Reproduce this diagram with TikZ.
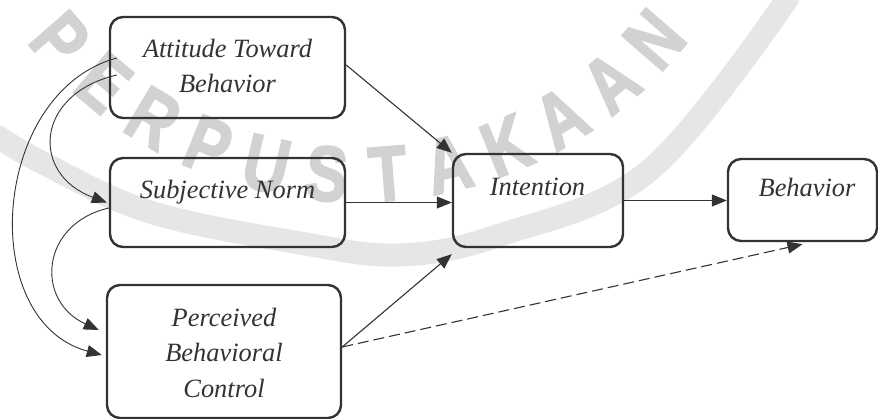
\documentclass[tikz,border=0pt]{standalone}
\usepackage{fontspec}
\setmainfont{Liberation Serif}
\newfontfamily\wmfont{Liberation Sans}[BoldFeatures={FakeBold=2.5}]
\usetikzlibrary{arrows.meta}
\definecolor{ink}{HTML}{333333}
\definecolor{wmgray}{HTML}{D2D2D2}
\definecolor{bandgray}{HTML}{E6E6E6}
\begin{document}
\begin{tikzpicture}[x=1pt,y=-1pt,
  box/.style={draw=ink, line width=2.4pt, rounded corners=13pt, inner sep=0pt},
  lbl/.style={font=\fontsize{26.4}{35}\selectfont\itshape, text=ink, anchor=base, inner sep=0pt},
  conn/.style={draw=ink, line width=1.1pt, -{Triangle[length=15pt,width=12pt]}},
  curv/.style={conn, line width=0.9pt},
  wm/.style={text=wmgray, inner sep=0pt, font=\wmfont\bfseries\fontsize{78}{78}\selectfont}]
\useasboundingbox (0,0) rectangle (878,419);
\fill[white] (0,0) rectangle (878,419);
% watermark
\draw[bandgray, line width=23pt] plot[smooth, tension=0.6] coordinates {(-5,135) (43,163) (150,212) (300,243) (400,255) (500,235) (650,170) (790,-5)};
\foreach \l [count=\i] in {P,E,R,P,U,S,T,A,K,A,A,N}{
  \pgfmathsetmacro\ang{138.9-8.9*(\i-1)}
  \node[wm, rotate={90-\ang}, xscale=0.8] (wm\i) at ([shift={(\ang:394)}]357,-219) {\l};
}
% boxes
\node[box, minimum width=235pt, minimum height=101pt] (att) at (227.5,67.5) {};
\node[box, minimum width=235pt, minimum height=89pt] (sn) at (227.5,202.5) {};
\node[box, minimum width=234pt, minimum height=133pt] (pbc) at (224,351.5) {};
\node[box, minimum width=170pt, minimum height=93pt] (int) at (538,200.5) {};
\node[box, minimum width=149pt, minimum height=82pt] (beh) at (802.5,200) {};
% labels
\node[lbl] (att1) at (227.5,58) {Attitude Toward};
\node[lbl] (att2) at (227.5,93) {Behavior};
\node[lbl] (sn1) at (227.5,199) {Subjective Norm};
\node[lbl] (int1) at (537.5,196) {Intention};
\node[lbl] (beh1) at (807,197) {Behavior};
\node[lbl] (pbc1) at (224,327) {Perceived};
\node[lbl] (pbc2) at (224,362) {Behavioral};
\node[lbl] (pbc3) at (224,397) {Control};
% straight connectors
\draw[conn] ([yshift=2.5pt]att.east) -- (int.north west);
\draw[conn] (sn.east) -- (int.west |- sn.east);
\draw[conn] ([yshift=4.5pt]pbc.east) -- ([yshift=-6pt]int.south west);
\draw[conn, dash pattern=on 11pt off 5pt] ([yshift=4.5pt]pbc.east) -- ([yshift=-2pt]beh.south);
\draw[conn] (int.east) -- (beh.west |- int.east);
% curved connectors
\draw[curv] ([shift={(8pt,9.5pt)}]att.west) .. controls (-9,92) and (-24,321) .. ([shift={(-4pt,-3.5pt)}]pbc.west);
\draw[curv] ([shift={(8pt,-7.5pt)}]att.west) .. controls (35,94) and (30,174) .. ([shift={(-2pt,0pt)}]sn.west);
\draw[curv] ([shift={(0pt,-5.5pt)}]sn.west) .. controls (40,224) and (35,301) .. ([shift={(-7pt,21.5pt)}]pbc.west);
\end{tikzpicture}
\end{document}
